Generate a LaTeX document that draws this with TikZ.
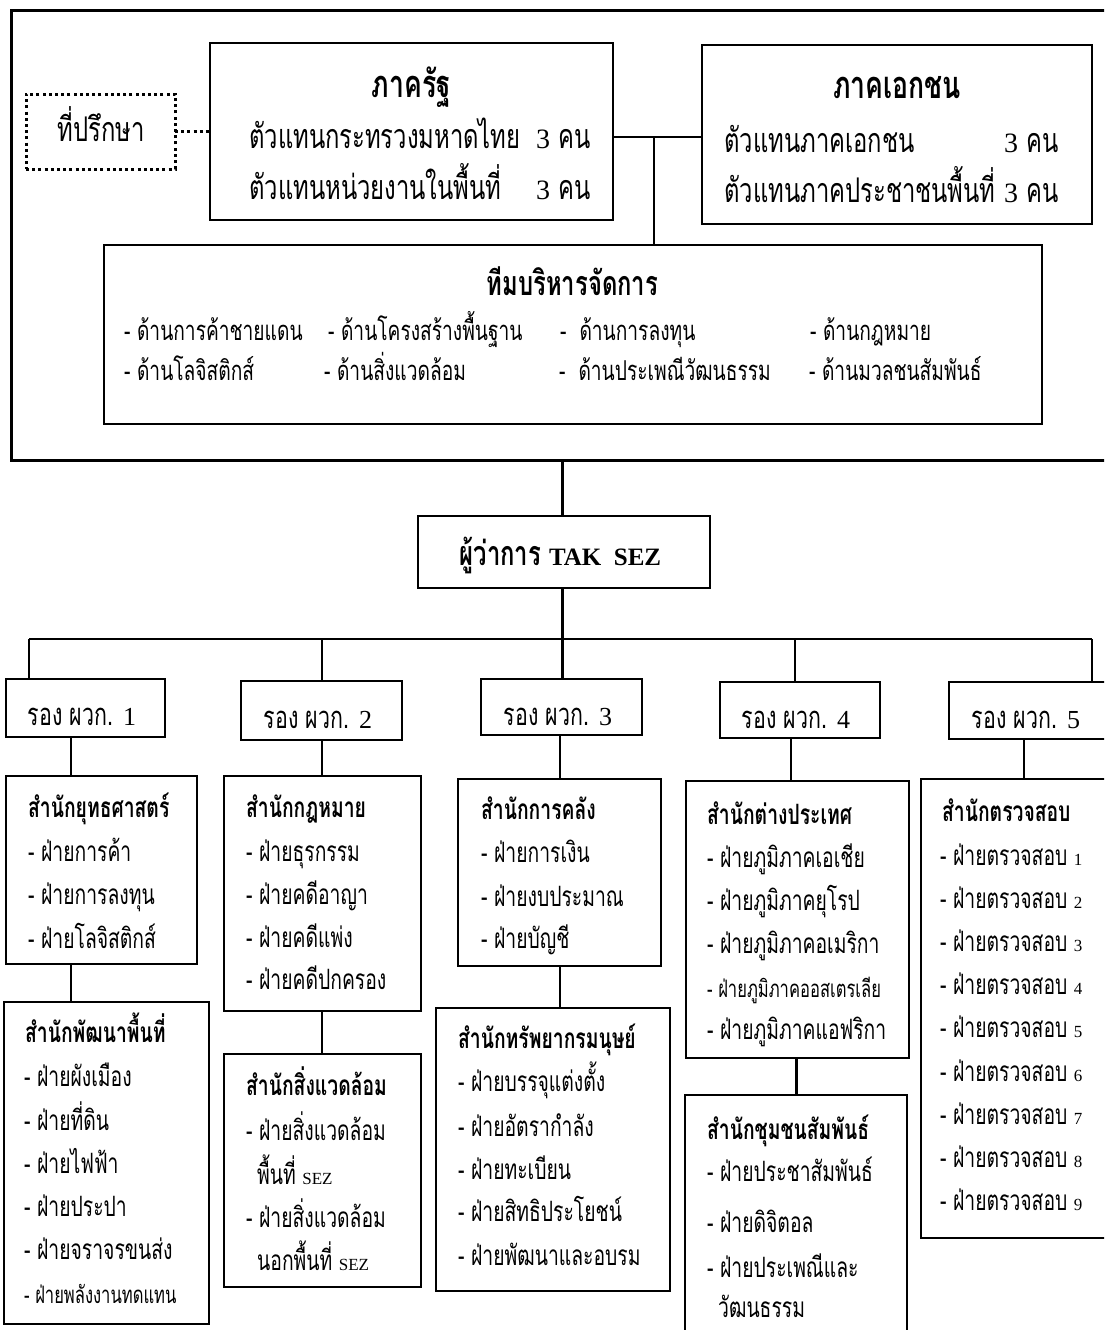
\documentclass[tikz,border=0pt]{standalone}
\usepackage{fontspec}
\newfontfamily\thA[Script=Thai,FakeStretch=0.7]{Loma}
\newfontfamily\thB[Script=Thai,FakeStretch=0.69]{Loma}
\newfontfamily\lat{Liberation Serif}
\newcommand\udg[1]{{\lat\fontsize{28}{32}\selectfont #1}}
\newcommand\rdg[1]{{\lat\fontsize{26}{30}\selectfont #1}}
\newcommand\sdg[1]{{\lat\fontsize{17}{20}\selectfont #1}}
\tikzset{
 box/.style={draw, line width=2.6pt, inner sep=0pt, outer sep=0pt, anchor=north west},
 conn/.style={line width=2.2pt},
 dotbox/.style={box, line width=3pt, dash pattern=on 3pt off 3.2pt},
 dotline/.style={line width=3pt, dash pattern=on 3pt off 3.2pt},
 ltU/.style={anchor=base west, inner sep=0pt, yshift=-9pt, font=\thA\fontsize{34}{38}\selectfont},
 ltR/.style={anchor=base west, inner sep=0pt, yshift=-7.5pt, font=\thA\fontsize{27.4}{31}\selectfont},
 ctU/.style={anchor=base, inner sep=0pt, yshift=-9pt, font=\thA\fontsize{34}{38}\selectfont},
 btU/.style={ctU, font=\thA\bfseries\fontsize{34}{38}\selectfont},
 bbU/.style={ctU, yshift=-1pt, font=\thA\bfseries\fontsize{38}{42}\selectfont},
 ltB/.style={anchor=base west, inner sep=0pt, yshift=-7.5pt, font=\thB\fontsize{28}{32}\selectfont},
 smB/.style={ltB, yshift=1pt, font=\thB\fontsize{24}{28}\selectfont},
 ctB/.style={anchor=base, inner sep=0pt, yshift=-8pt, font=\thB\fontsize{31}{35}\selectfont},
 btB/.style={ltB, font=\thB\bfseries\fontsize{28}{32}\selectfont}
}
\begin{document}
\begin{tikzpicture}[x=1pt,y=-1pt]
\useasboundingbox (0,0) rectangle (1104,1330);
\fill[white] (0,0) rectangle (1104,1330);
\clip (0,0) rectangle (1104,1330);
% ---------- boxes ----------
\node[box, line width=3pt, minimum width=1109pt, minimum height=449pt] (frame) at (11,11) {};
\node[dotbox, minimum width=149pt, minimum height=75pt] (adv) at (26,94) {};
\node[box, minimum width=403pt, minimum height=177pt] (gov) at (210,43) {};
\node[box, minimum width=390pt, minimum height=179pt] (priv) at (702,45) {};
\node[box, line width=2.2pt, minimum width=938pt, minimum height=179pt] (team) at (104,245) {};
\node[box, minimum width=292pt, minimum height=72pt] (gvn) at (418,516) {};
\node[box, minimum width=159pt, minimum height=58pt] (r1) at (6,679) {};
\node[box, minimum width=161pt, minimum height=59pt] (r2) at (241,681) {};
\node[box, minimum width=161pt, minimum height=56pt] (r3) at (481,679) {};
\node[box, minimum width=160pt, minimum height=56pt] (r4) at (720,682) {};
\node[box, minimum width=181pt, minimum height=57pt] (r5) at (949,682) {};
\node[box, minimum width=191pt, minimum height=188pt] (o1) at (6,776) {};
\node[box, minimum width=205pt, minimum height=322pt] (o1b) at (4,1002) {};
\node[box, minimum width=197pt, minimum height=235pt] (o2) at (224,776) {};
\node[box, minimum width=197pt, minimum height=233pt] (o2b) at (224,1054) {};
\node[box, minimum width=203pt, minimum height=187pt] (o3) at (458,779) {};
\node[box, minimum width=234pt, minimum height=283pt] (o3b) at (436,1008) {};
\node[box, minimum width=223pt, minimum height=277pt] (o4) at (686,781) {};
\node[box, minimum width=222pt, minimum height=265pt] (o4b) at (685,1095) {};
\node[box, minimum width=209pt, minimum height=459pt] (o5) at (921,779) {};
% ---------- connectors ----------
\draw[dotline] (adv.east) -- (adv.east -| gov.west);
\coordinate (j) at (654,137);
\draw[conn] (gov.east |- j) -- (priv.west |- j);
\draw[conn] (j) -- (j |- team.north);
\coordinate (busC) at (562.5,639);
\draw[conn] (frame.south -| busC) -- (gvn.north -| busC);
\draw[conn] (gvn.south -| busC) -- (busC);
\coordinate (bL) at (29,639);
\coordinate (bR) at (1092,639);
\draw[conn] (bL) -- (bR);
\draw[conn] (bL) -- (bL |- r1.north);
\coordinate (d2) at (322,639);
\draw[conn] (d2) -- (d2 |- r2.north);
\draw[conn] (busC) -- (busC |- r3.north);
\coordinate (d4) at (795,639);
\draw[conn] (d4) -- (d4 |- r4.north);
\draw[conn] (bR) -- (bR |- r5.north);
\coordinate (c1) at (71,700);
\draw[conn] (c1 |- r1.south) -- (c1 |- o1.north);
\draw[conn] (c1 |- o1.south) -- (c1 |- o1b.north);
\coordinate (c2) at (322,700);
\draw[conn] (c2 |- r2.south) -- (c2 |- o2.north);
\draw[conn] (c2 |- o2.south) -- (c2 |- o2b.north);
\coordinate (c3) at (560,700);
\draw[conn] (c3 |- r3.south) -- (c3 |- o3.north);
\draw[conn] (c3 |- o3.south) -- (c3 |- o3b.north);
\coordinate (c4) at (791,700);
\draw[conn] (c4 |- r4.south) -- (c4 |- o4.north);
\coordinate (c4b) at (796.5,700);
\draw[conn] (c4b |- o4.south) -- (c4b |- o4b.north);
\coordinate (c5) at (1024,700);
\draw[conn] (c5 |- r5.south) -- (c5 |- o5.north);
% ---------- upper texts ----------
\node[ctU] (advT) at (101,132) {ที่ปรึกษา};
\node[bbU] (govT) at (411.5,87) {ภาครัฐ};
\node[ltU] (gov1) at (249,139) {\makebox[287pt][l]{ตัวแทนกระทรวงมหาดไทย}\udg{3} คน};
\node[ltU] (gov2) at (249,190) {\makebox[287pt][l]{ตัวแทนหน่วยงานในพื้นที่}\udg{3} คน};
\node[bbU] (privT) at (897,88) {ภาคเอกชน};
\node[ltU] (priv1) at (724,143) {\makebox[280pt][l]{ตัวแทนภาคเอกชน}\udg{3} คน};
\node[ltU] (priv2) at (724,193) {\makebox[280pt][l]{ตัวแทนภาคประชาชนพื้นที่}\udg{3} คน};
\node[btU] (teamT) at (572.5,286) {ทีมบริหารจัดการ};
\node[ltR] (t11) at (124,333) {- ด้านการค้าชายแดน};
\node[ltR] (t12) at (328,333) {- ด้านโครงสร้างพื้นฐาน};
\node[ltR] (t13) at (560,333) {-\ \ ด้านการลงทุน};
\node[ltR] (t14) at (810,333) {- ด้านกฎหมาย};
\node[ltR] (t21) at (124,373) {- ด้านโลจิสติกส์};
\node[ltR] (t22) at (324,373) {- ด้านสิ่งแวดล้อม};
\node[ltR] (t23) at (559,373) {-\ \ ด้านประเพณีวัฒนธรรม};
\node[ltR] (t24) at (809,373) {- ด้านมวลชนสัมพันธ์};
\node[btU] (gvnT) at (560.5,556) {ผู้ว่าการ {\lat\fontsize{25}{30}\selectfont TAK\ \ SEZ}};
% ---------- deputies ----------
\node[ctB] (r1T) at (82,717) {รอง ผวก. \rdg{1}};
\node[ctB] (r2T) at (318,720) {รอง ผวก. \rdg{2}};
\node[ctB] (r3T) at (558,717) {รอง ผวก. \rdg{3}};
\node[ctB] (r4T) at (796,720) {รอง ผวก. \rdg{4}};
\node[ctB] (r5T) at (1026,720) {รอง ผวก. \rdg{5}};
% ---------- offices ----------
\node[btB] (o1T) at (28,810) {สำนักยุทธศาสตร์};
\node[ltB] (o1i1) at (28,854) {- ฝ่ายการค้า};
\node[ltB] (o1i2) at (28,897) {- ฝ่ายการลงทุน};
\node[ltB] (o1i3) at (28,941) {- ฝ่ายโลจิสติกส์};
\node[btB] (o1bT) at (25,1035) {สำนักพัฒนาพื้นที่};
\node[ltB] (o1bi1) at (24,1079) {- ฝ่ายผังเมือง};
\node[ltB] (o1bi2) at (24,1123) {- ฝ่ายที่ดิน};
\node[ltB] (o1bi3) at (24,1166) {- ฝ่ายไฟฟ้า};
\node[ltB] (o1bi4) at (24,1209) {- ฝ่ายประปา};
\node[ltB] (o1bi5) at (24,1252) {- ฝ่ายจราจรขนส่ง};
\node[smB] (o1bi6) at (24,1297) {- ฝ่ายพลังงานทดแทน};
\node[btB] (o2T) at (246,810) {สำนักกฎหมาย};
\node[ltB] (o2i1) at (246,854) {- ฝ่ายธุรกรรม};
\node[ltB] (o2i2) at (246,897) {- ฝ่ายคดีอาญา};
\node[ltB] (o2i3) at (246,940) {- ฝ่ายคดีแพ่ง};
\node[ltB] (o2i4) at (246,982) {- ฝ่ายคดีปกครอง};
\node[btB] (o2bT) at (246,1088) {สำนักสิ่งแวดล้อม};
\node[ltB] (o2bi1) at (246,1133) {- ฝ่ายสิ่งแวดล้อม};
\node[ltB] (o2bi1b) at (257,1177) {พื้นที่ \sdg{SEZ}};
\node[ltB] (o2bi2) at (246,1220) {- ฝ่ายสิ่งแวดล้อม};
\node[ltB] (o2bi2b) at (257,1263) {นอกพื้นที่ \sdg{SEZ}};
\node[btB] (o3T) at (481,812) {สำนักการคลัง};
\node[ltB] (o3i1) at (481,855) {- ฝ่ายการเงิน};
\node[ltB] (o3i2) at (481,899) {- ฝ่ายงบประมาณ};
\node[ltB] (o3i3) at (481,941) {- ฝ่ายบัญชี};
\node[btB] (o3bT) at (458,1041) {สำนักทรัพยากรมนุษย์};
\node[ltB] (o3bi1) at (458,1084) {- ฝ่ายบรรจุแต่งตั้ง};
\node[ltB] (o3bi2) at (458,1129) {- ฝ่ายอัตรากำลัง};
\node[ltB] (o3bi3) at (458,1172) {- ฝ่ายทะเบียน};
\node[ltB] (o3bi4) at (458,1214) {- ฝ่ายสิทธิประโยชน์};
\node[ltB] (o3bi5) at (458,1258) {- ฝ่ายพัฒนาและอบรม};
\node[btB] (o4T) at (707,817) {สำนักต่างประเทศ};
\node[ltB] (o4i1) at (707,860) {- ฝ่ายภูมิภาคเอเชีย};
\node[ltB] (o4i2) at (707,903) {- ฝ่ายภูมิภาคยุโรป};
\node[ltB] (o4i3) at (707,946) {- ฝ่ายภูมิภาคอเมริกา};
\node[smB] (o4i4) at (707,991) {- ฝ่ายภูมิภาคออสเตรเลีย};
\node[ltB] (o4i5) at (707,1032) {- ฝ่ายภูมิภาคแอฟริกา};
\node[btB] (o4bT) at (707,1132) {สำนักชุมชนสัมพันธ์};
\node[ltB] (o4bi1) at (707,1174) {- ฝ่ายประชาสัมพันธ์};
\node[ltB] (o4bi2) at (707,1225) {- ฝ่ายดิจิตอล};
\node[ltB] (o4bi3) at (707,1270) {- ฝ่ายประเพณีและ};
\node[ltB] (o4bi3b) at (718,1310) {วัฒนธรรม};
\node[btB] (o5T) at (942,814) {สำนักตรวจสอบ};
\foreach \k in {1,...,9}
  \node[ltB] (o5i\k) at (940,{857.5+43.2*(\k-1)}) {- ฝ่ายตรวจสอบ \sdg{\k}};
\end{tikzpicture}
\end{document}
